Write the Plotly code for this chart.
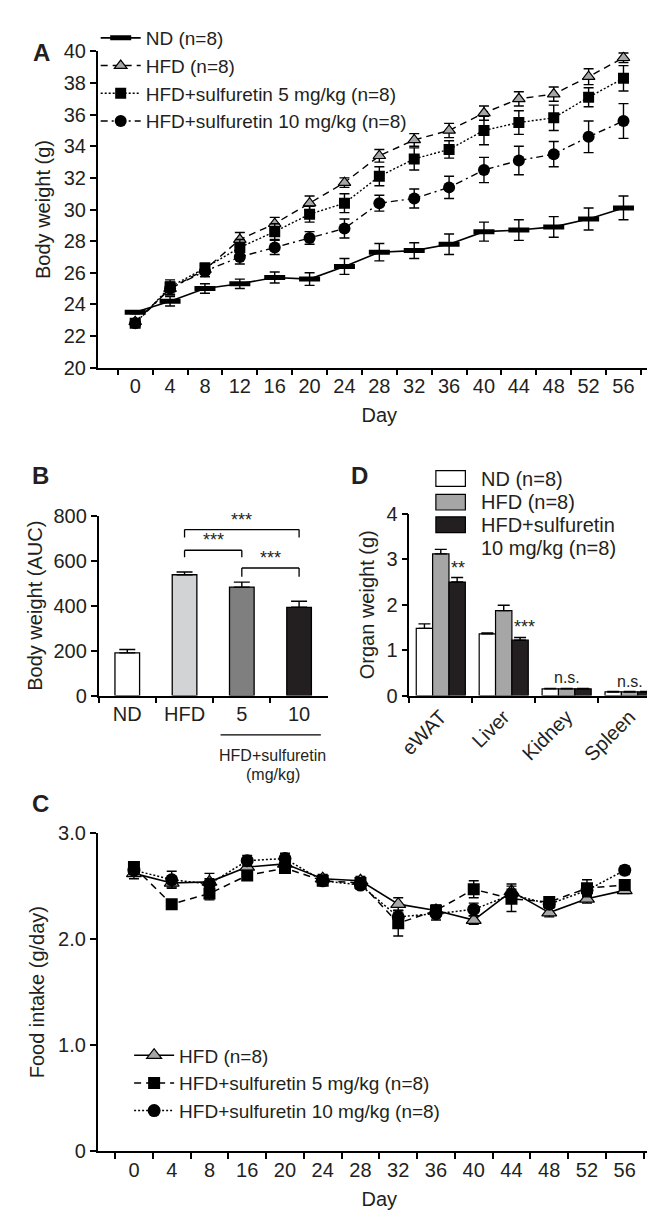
import plotly.graph_objects as go

W, H = 655, 1222
FONT = "Arial, Liberation Sans, sans-serif"

# ---------------- panel A: body weight over time ----------------
days_a = ["0", "4", "8", "12", "16", "20", "24", "28", "32", "36", "40", "44", "48", "52", "56"]
bw_nd = [23.5, 24.2, 25.0, 25.3, 25.7, 25.6, 26.4, 27.3, 27.4, 27.8, 28.6, 28.7, 28.9, 29.4, 30.1]
bw_nd_err = [0.1, 0.3, 0.3, 0.3, 0.35, 0.4, 0.5, 0.55, 0.5, 0.65, 0.6, 0.65, 0.65, 0.7, 0.75]
bw_hfd = [22.9, 25.0, 26.2, 28.1, 29.1, 30.4, 31.7, 33.4, 34.4, 35.0, 36.1, 37.0, 37.3, 38.4, 39.6]
bw_hfd_err = [0.15, 0.4, 0.3, 0.45, 0.4, 0.45, 0.3, 0.4, 0.4, 0.45, 0.45, 0.45, 0.45, 0.5, 0.3]
bw_s5 = [22.8, 25.1, 26.3, 27.6, 28.6, 29.7, 30.4, 32.1, 33.2, 33.8, 35.0, 35.5, 35.8, 37.1, 38.3]
bw_s5_err = [0.15, 0.45, 0.3, 0.5, 0.5, 0.5, 0.6, 0.6, 0.7, 0.55, 0.9, 0.75, 0.8, 0.6, 0.8]
bw_s10 = [22.8, 25.0, 26.1, 27.0, 27.6, 28.2, 28.8, 30.4, 30.7, 31.4, 32.5, 33.1, 33.5, 34.6, 35.6]
bw_s10_err = [0.15, 0.4, 0.35, 0.45, 0.45, 0.4, 0.6, 0.5, 0.6, 0.7, 0.8, 0.9, 0.8, 1.0, 1.1]

# ---------------- panel B: AUC ----------------
auc_groups = ["ND", "HFD", "5", "10"]
auc_vals = [190, 538, 483, 393]
auc_err = [15, 12, 22, 27]
auc_colors = ["#ffffff", "#d2d3d5", "#7f7f7f", "#231f20"]

# ---------------- panel D: organ weights ----------------
organs = ["eWAT", "Liver", "Kidney", "Spleen"]
org_nd = [1.48, 1.36, 0.15, 0.08]
org_nd_err = [0.10, 0.02, 0.01, 0.01]
org_hfd = [3.12, 1.87, 0.15, 0.08]
org_hfd_err = [0.10, 0.12, 0.01, 0.01]
org_s10 = [2.50, 1.22, 0.15, 0.08]
org_s10_err = [0.10, 0.06, 0.01, 0.01]

# ---------------- panel C: food intake ----------------
days_c = ["0", "4", "8", "16", "20", "24", "28", "32", "36", "40", "44", "48", "52", "56"]
fi_hfd = [2.62, 2.53, 2.54, 2.68, 2.71, 2.57, 2.55, 2.33, 2.27, 2.18, 2.45, 2.25, 2.38, 2.46]
fi_hfd_err = [0.05, 0.04, 0.08, 0.04, 0.05, 0.04, 0.04, 0.06, 0.05, 0.04, 0.07, 0.04, 0.04, 0.03]
fi_s5 = [2.68, 2.33, 2.43, 2.60, 2.67, 2.55, 2.53, 2.15, 2.27, 2.47, 2.38, 2.35, 2.48, 2.51]
fi_s5_err = [0.05, 0.03, 0.06, 0.04, 0.04, 0.04, 0.05, 0.12, 0.05, 0.08, 0.12, 0.04, 0.08, 0.05]
fi_s10 = [2.65, 2.56, 2.52, 2.74, 2.76, 2.55, 2.51, 2.21, 2.24, 2.28, 2.42, 2.33, 2.46, 2.65]
fi_s10_err = [0.04, 0.08, 0.05, 0.05, 0.05, 0.04, 0.04, 0.06, 0.06, 0.06, 0.05, 0.04, 0.05, 0.04]


def px(x):
    return x / W


def py(y):
    return 1 - y / H


def err(arr, width=5, plus_only=False):
    e = dict(type="data", array=arr, color="black", thickness=1.4, width=width, visible=True)
    if plus_only:
        e["symmetric"] = False
        e["arrayminus"] = [0] * len(arr)
    return e


fig = go.Figure()

# A
fig.add_trace(go.Scatter(x=days_a, y=bw_nd, name="ND (n=8)", mode="lines+markers",
                         line=dict(color="black", width=1.6),
                         marker=dict(symbol="line-ew", size=15, line=dict(width=5, color="black")),
                         error_y=err(bw_nd_err), xaxis="x", yaxis="y", legend="legend"))
fig.add_trace(go.Scatter(x=days_a, y=bw_hfd, name="HFD (n=8)", mode="lines+markers",
                         line=dict(color="black", width=1.4, dash="7px,5px"),
                         marker=dict(symbol="triangle-up", size=11, color="#a6a6a6", line=dict(width=1.2, color="black")),
                         error_y=err(bw_hfd_err), xaxis="x", yaxis="y", legend="legend"))
fig.add_trace(go.Scatter(x=days_a, y=bw_s5, name="HFD+sulfuretin 5 mg/kg (n=8)", mode="lines+markers",
                         line=dict(color="black", width=1.4, dash="2px,2px"),
                         marker=dict(symbol="square", size=11, color="black"),
                         error_y=err(bw_s5_err), xaxis="x", yaxis="y", legend="legend"))
fig.add_trace(go.Scatter(x=days_a, y=bw_s10, name="HFD+sulfuretin 10 mg/kg (n=8)", mode="lines+markers",
                         line=dict(color="black", width=1.4, dash="7px,4px,2px,4px"),
                         marker=dict(symbol="circle", size=12, color="black"),
                         error_y=err(bw_s10_err), xaxis="x", yaxis="y", legend="legend"))

# B
fig.add_trace(go.Bar(x=auc_groups, y=auc_vals, width=0.43, marker=dict(color=auc_colors, line=dict(color="black", width=1.3)),
                     error_y=err(auc_err, width=8, plus_only=True), showlegend=False, xaxis="x2", yaxis="y2"))

# D
for vals, errs, col in [(org_nd, org_nd_err, "#ffffff"), (org_hfd, org_hfd_err, "#a6a6a6"), (org_s10, org_s10_err, "#231f20")]:
    fig.add_trace(go.Bar(x=organs, y=vals, marker=dict(color=col, line=dict(color="black", width=1.2)),
                         error_y=err(errs, width=6, plus_only=True), showlegend=False, xaxis="x3", yaxis="y3"))

# C
fig.add_trace(go.Scatter(x=days_c, y=fi_hfd, name="HFD (n=8)", mode="lines+markers",
                         line=dict(color="black", width=1.6),
                         marker=dict(symbol="triangle-up", size=13, color="#a6a6a6", line=dict(width=1.2, color="black")),
                         error_y=err(fi_hfd_err), xaxis="x4", yaxis="y4", legend="legend2"))
fig.add_trace(go.Scatter(x=days_c, y=fi_s5, name="HFD+sulfuretin 5 mg/kg (n=8)", mode="lines+markers",
                         line=dict(color="black", width=1.5, dash="7px,5px"),
                         marker=dict(symbol="square", size=12, color="black"),
                         error_y=err(fi_s5_err), xaxis="x4", yaxis="y4", legend="legend2"))
fig.add_trace(go.Scatter(x=days_c, y=fi_s10, name="HFD+sulfuretin 10 mg/kg (n=8)", mode="lines+markers",
                         line=dict(color="black", width=1.5, dash="2px,2px"),
                         marker=dict(symbol="circle", size=13, color="black"),
                         error_y=err(fi_s10_err), xaxis="x4", yaxis="y4", legend="legend2"))

axis_common = dict(showline=True, linecolor="black", linewidth=1.5, ticks="outside", ticklen=6, tickwidth=1.5,
                   tickcolor="black", showgrid=False, zeroline=False, tickfont=dict(size=20, color="#231f20"),
                   title_font=dict(size=20, color="#231f20"))

fig.update_layout(
    width=W, height=H, margin=dict(l=0, r=0, t=0, b=0),
    paper_bgcolor="white", plot_bgcolor="white",
    font=dict(family=FONT, color="#231f20"),
    barmode="group", bargap=0.22, bargroupgap=0,
    xaxis=dict(axis_common, domain=[px(80), px(653)], type="category", tickson="boundaries", anchor="y",
               title=dict(text="Day", standoff=12)),
    yaxis=dict(axis_common, domain=[py(355), py(33)], range=[20, 40], dtick=2, anchor="x",
               title=dict(text="Body weight (g)", standoff=8)),
    xaxis2=dict(axis_common, domain=[px(81), px(314)], type="category", tickson="boundaries", anchor="y2"),
    yaxis2=dict(axis_common, domain=[py(689), py(506)], range=[0, 800], dtick=200, anchor="x2",
                title=dict(text="Body weight (AUC)", standoff=6)),
    xaxis3=dict(axis_common, domain=[px(397), px(653)], type="category", tickson="boundaries", anchor="y3",
                tickangle=-45),
    yaxis3=dict(axis_common, domain=[py(689), py(504)], range=[0, 4], dtick=1, anchor="x3",
                title=dict(text="Organ weight (g)", standoff=6)),
    xaxis4=dict(axis_common, domain=[px(80), px(653)], type="category", tickson="boundaries", anchor="y4",
                title=dict(text="Day", standoff=12)),
    yaxis4=dict(axis_common, domain=[py(1153), py(829)], range=[0, 3], tickvals=[0, 1, 2, 3],
                ticktext=["0", "1.0", "2.0", "3.0"], anchor="x4",
                title=dict(text="Food intake (g/day)", standoff=8)),
    legend=dict(x=px(78), y=py(0), xanchor="left", yanchor="top", bgcolor="rgba(0,0,0,0)",
                font=dict(size=19), tracegroupgap=0, itemwidth=40),
    legend2=dict(x=px(112), y=py(1036), xanchor="left", yanchor="top", bgcolor="rgba(0,0,0,0)",
                 font=dict(size=19), tracegroupgap=0, itemwidth=40),
)

shapes = []
annotations = []

# panel letters
for letter, x, y in [("A", 12, 18), ("B", 11, 465), ("D", 346, 465), ("C", 11, 815)]:
    annotations.append(dict(text=f"<b>{letter}</b>", x=px(x), y=py(y), xref="paper", yref="paper",
                            showarrow=False, font=dict(size=24, color="#231f20")))

# B significance brackets (category index: HFD=1, 5=2, 10=3)
brackets = [(1, 3, 739, 704, "***", 2.0), (1, 2, 647, 616, "***", 1.5), (2, 3, 568, 529, "***", 2.5)]
for x0, x1, top, leg, stars, xs in brackets:
    for (a, b, c, d) in [(x0, top, x1, top), (x0, top, x0, leg), (x1, top, x1, leg)]:
        shapes.append(dict(type="line", xref="x2", yref="y2", x0=a, y0=b, x1=c, y1=d,
                           line=dict(color="black", width=1.3)))
    annotations.append(dict(text=stars, x=xs, y=top, xref="x2", yref="y2", yanchor="bottom", yshift=-2,
                            showarrow=False, font=dict(size=18)))

# B group label under the sulfuretin doses
shapes.append(dict(type="line", xref="paper", yref="paper", x0=px(205), x1=px(307), y0=py(729), y1=py(729),
                   line=dict(color="black", width=1.2)))
annotations.append(dict(text="HFD+sulfuretin", x=px(258), y=py(750), xref="paper", yref="paper",
                        showarrow=False, font=dict(size=16)))
annotations.append(dict(text="(mg/kg)", x=px(258), y=py(769), xref="paper", yref="paper",
                        showarrow=False, font=dict(size=16)))

# D significance labels
for text, x, y, size in [("**", 0.27, 2.82, 18), ("***", 1.33, 1.5, 18), ("n.s.", 2, 0.4, 16), ("n.s.", 3, 0.32, 16)]:
    annotations.append(dict(text=text, x=x, y=y, xref="x3", yref="y3", showarrow=False, font=dict(size=size)))

# D legend boxes
d_legend = [("ND (n=8)", "#ffffff", 468), ("HFD (n=8)", "#a6a6a6", 492), ("HFD+sulfuretin", "#231f20", 515)]
for label, col, yc in d_legend:
    shapes.append(dict(type="rect", xref="paper", yref="paper", x0=px(424), x1=px(454), y0=py(yc + 8), y1=py(yc - 8),
                       fillcolor=col, line=dict(color="black", width=1.2)))
    annotations.append(dict(text=label, x=px(468), y=py(yc), xref="paper", yref="paper", xanchor="left",
                            showarrow=False, font=dict(size=20)))
annotations.append(dict(text="10 mg/kg (n=8)", x=px(468), y=py(539), xref="paper", yref="paper", xanchor="left",
                        showarrow=False, font=dict(size=20)))

fig.update_layout(shapes=shapes, annotations=annotations)

fig.write_html("out.html")
